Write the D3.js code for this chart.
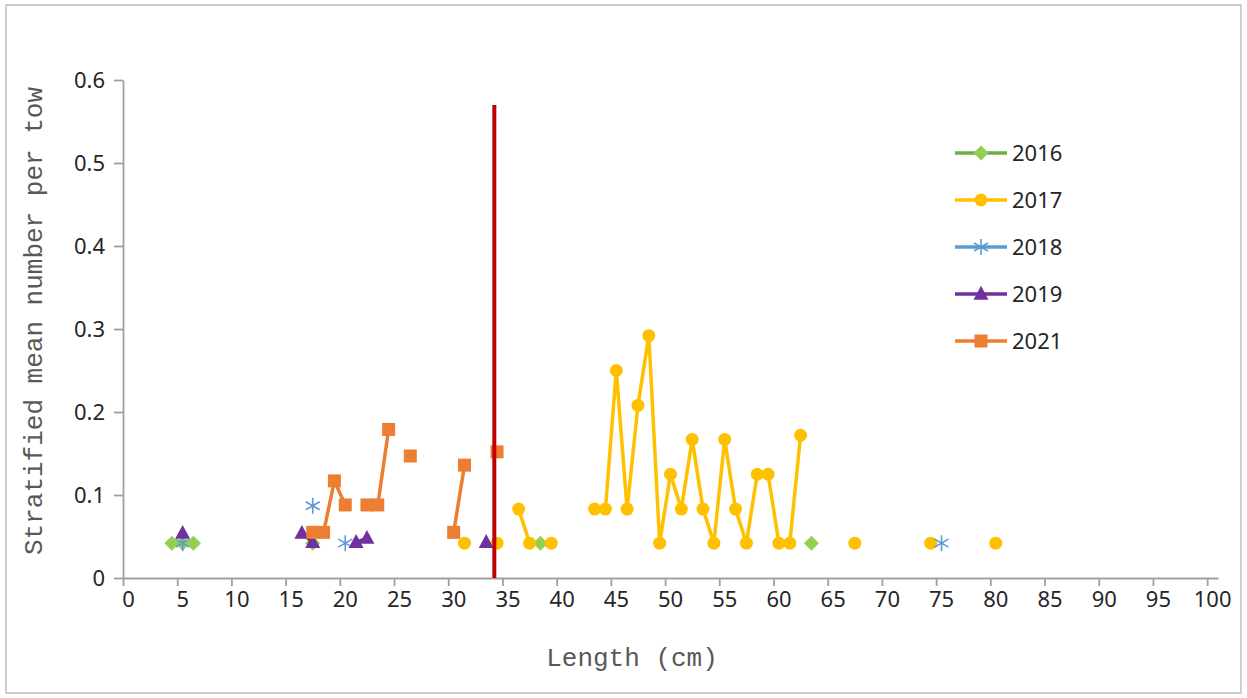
<!DOCTYPE html>
<html>
<head>
<meta charset="utf-8">
<script src="https://cdn.jsdelivr.net/npm/d3@7"></script>
<style>
  body { margin: 0; background: #fff; }
  svg { display: block; }
</style>
</head>
<body>
<svg id="chart"></svg>
<script>
// Lengths (cm) and stratified mean number per tow
const years = ["2016", "2017", "2018", "2019", "2021"];

const len2016 = [4.5, 5.5, 6.5, 17.5, 38.5, 63.5];
const val2016 = [0.042, 0.042, 0.042, 0.042, 0.042, 0.042];

const len2017 = [31.5, 34.5, 36.5, 37.5, 39.5, 43.5, 44.5, 45.5, 46.5, 47.5, 48.5, 49.5,
  50.5, 51.5, 52.5, 53.5, 54.5, 55.5, 56.5, 57.5, 58.5, 59.5, 60.5, 61.5, 62.5,
  67.5, 74.5, 80.5];
const val2017 = [0.042, 0.042, 0.083, 0.042, 0.042, 0.083, 0.083, 0.25, 0.083, 0.208, 0.292, 0.042,
  0.125, 0.083, 0.167, 0.083, 0.042, 0.167, 0.083, 0.042, 0.125, 0.125, 0.042, 0.042, 0.172,
  0.042, 0.042, 0.042];

const len2018 = [5.5, 17.5, 20.5, 75.5];
const val2018 = [0.042, 0.087, 0.042, 0.042];

const len2019 = [5.5, 16.5, 17.5, 21.5, 22.5, 33.5];
const val2019 = [0.054, 0.054, 0.043, 0.043, 0.048, 0.043];

const len2021 = [17.5, 18.5, 19.5, 20.5, 22.5, 23.5, 24.5, 26.5, 30.5, 31.5, 34.5];
const val2021 = [0.055, 0.055, 0.117, 0.088, 0.088, 0.088, 0.179, 0.147, 0.055, 0.136, 0.152];

const xTicks = d3.range(0, 101, 5);
const yTicks = [0, 0.1, 0.2, 0.3, 0.4, 0.5, 0.6];

// reference line (cm) and its height
const refLength = 34.25;
const refTop = 0.57;

const width = 1247;
const height = 698;
const margin = { left: 123, right: 29, top: 80, bottom: 120 };

const styles = {
  "2016": { line: "#70AD47", fill: "#92D050", marker: "diamond" },
  "2017": { line: "#FFC000", fill: "#FFC000", marker: "circle" },
  "2018": { line: "#5B9BD5", fill: "#5B9BD5", marker: "star" },
  "2019": { line: "#7030A0", fill: "#7030A0", marker: "triangle" },
  "2021": { line: "#ED7D31", fill: "#ED7D31", marker: "square" }
};

const lens = { "2016": len2016, "2017": len2017, "2018": len2018, "2019": len2019, "2021": len2021 };
const vals = { "2016": val2016, "2017": val2017, "2018": val2018, "2019": val2019, "2021": val2021 };

const series = years.map((y) => ({
  name: y,
  points: lens[y].map((l, i) => ({ x: l, y: vals[y][i] })),
  ...styles[y]
}));

const svg = d3.select("#chart").attr("width", width).attr("height", height);

svg.append("rect")
  .attr("x", 6).attr("y", 5)
  .attr("width", width - 12).attr("height", height - 10)
  .attr("fill", "#fff")
  .attr("stroke", "#BFBFBF")
  .attr("stroke-width", 1.5);

const x = d3.scaleLinear().domain([0, 101]).range([margin.left, width - margin.right]);
const y = d3.scaleLinear().domain([0, 0.6]).range([height - margin.bottom, margin.top]);

// axes
const axisColor = "#A0A0A0";
const xAxis = svg.append("g")
  .attr("transform", `translate(0, ${y(0)})`)
  .call(d3.axisBottom(x).tickValues(xTicks).tickSize(8).tickSizeOuter(0).tickFormat(d3.format("d")));
const yAxis = svg.append("g")
  .attr("transform", `translate(${x(0)}, 0)`)
  .call(d3.axisLeft(y).tickValues(yTicks).tickSize(9).tickSizeOuter(0)
    .tickFormat((d) => (d === 0 ? "0" : d3.format(".1f")(d))));

[xAxis, yAxis].forEach((g) => {
  g.select(".domain").attr("stroke", axisColor).attr("stroke-width", 1.8);
  g.selectAll(".tick line").attr("stroke", axisColor).attr("stroke-width", 1.8);
  g.selectAll(".tick text")
    .attr("fill", "#262626")
    .attr("font-family", "'Noto Sans', 'Open Sans', sans-serif")
    .attr("font-size", 22);
});
xAxis.selectAll(".tick text").attr("dx", 5).attr("dy", "0.8em");
yAxis.selectAll(".tick text").attr("dx", -6);

// axis titles
svg.append("text")
  .attr("x", 632).attr("y", 666)
  .attr("text-anchor", "middle")
  .attr("font-family", "'Liberation Mono', 'DejaVu Sans Mono', monospace")
  .attr("font-size", 26)
  .attr("fill", "#595959")
  .text("Length (cm)");

svg.append("text")
  .attr("transform", `translate(42, ${(y(0) + y(0.6)) / 2 - 8}) rotate(-90)`)
  .attr("text-anchor", "middle")
  .attr("font-family", "'Liberation Mono', 'DejaVu Sans Mono', monospace")
  .attr("font-size", 26)
  .attr("fill", "#595959")
  .text("Stratified mean number per tow");

// split a series into runs of consecutive lengths
function runs(points) {
  const out = [];
  let cur = [];
  points.forEach((p, i) => {
    if (i > 0 && p.x - points[i - 1].x > 1.01) {
      out.push(cur);
      cur = [];
    }
    cur.push(p);
  });
  out.push(cur);
  return out;
}

function markerPath(type, r) {
  if (type === "diamond") return `M0,${-r}L${r},0L0,${r}L${-r},0Z`;
  if (type === "square") return `M${-r},${-r}H${r}V${r}H${-r}Z`;
  if (type === "triangle") return `M0,${-r * 1.1}L${r},${r * 0.75}L${-r},${r * 0.75}Z`;
  if (type === "star") {
    const c = r * 0.87, s = r * 0.5;
    return `M0,${-r}L0,${r}M${-c},${-s}L${c},${s}M${-c},${s}L${c},${-s}`;
  }
  return null;
}

function drawMarker(g, type, fill, cx, cy) {
  if (type === "circle") {
    g.append("circle").attr("cx", cx).attr("cy", cy).attr("r", 6.5).attr("fill", fill);
  } else if (type === "star") {
    g.append("path").attr("transform", `translate(${cx},${cy})`)
      .attr("d", markerPath(type, 8)).attr("fill", "none")
      .attr("stroke", fill).attr("stroke-width", 1.6);
  } else {
    const r = type === "square" ? 6.5 : 7.5;
    g.append("path").attr("transform", `translate(${cx},${cy})`)
      .attr("d", markerPath(type, r)).attr("fill", fill);
  }
}

const line = d3.line().x((d) => x(d.x)).y((d) => y(d.y));

const plot = svg.append("g");
series.forEach((s) => {
  const g = plot.append("g");
  runs(s.points).filter((r) => r.length > 1).forEach((r) => {
    g.append("path")
      .attr("d", line(r))
      .attr("fill", "none")
      .attr("stroke", s.line)
      .attr("stroke-width", 3.5)
      .attr("stroke-linejoin", "round");
  });
  s.points.forEach((p) => drawMarker(g, s.marker, s.fill, x(p.x), y(p.y)));
});

// reference line
svg.append("line")
  .attr("x1", x(refLength)).attr("x2", x(refLength))
  .attr("y1", y(0)).attr("y2", y(refTop))
  .attr("stroke", "#C00000")
  .attr("stroke-width", 4);

// legend
const legend = svg.append("g").attr("transform", "translate(955, 153)");
series.forEach((s, i) => {
  const g = legend.append("g").attr("transform", `translate(0, ${i * 47})`);
  g.append("line").attr("x1", 0).attr("x2", 52).attr("y1", 0).attr("y2", 0)
    .attr("stroke", s.line).attr("stroke-width", 3.5);
  drawMarker(g, s.marker, s.fill, 26, 0);
  g.append("text")
    .attr("x", 57).attr("y", 0).attr("dy", "0.36em")
    .attr("font-family", "'Noto Sans', 'Open Sans', sans-serif")
    .attr("font-size", 22)
    .attr("fill", "#262626")
    .text(s.name);
});
</script>
</body>
</html>
